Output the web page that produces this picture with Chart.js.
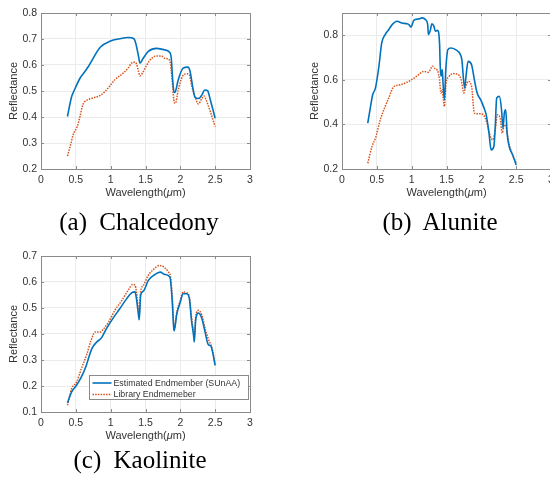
<!DOCTYPE html>
<html>
<head>
<meta charset="utf-8">
<script src="https://cdn.jsdelivr.net/npm/chart.js@4/dist/chart.umd.min.js"></script>
<style>
  html, body { margin: 0; padding: 0; background: #fff; width: 550px; height: 479px; overflow: hidden; position: relative; }
  canvas { position: absolute; }
  .cap { position: absolute; width: 240px; font: 25px "Liberation Serif", "Times New Roman", serif; line-height: 25px;
         color: #000; text-align: center; white-space: pre; word-spacing: 6px; }
</style>
</head>
<body>
<canvas id="chA"></canvas>
<canvas id="chB"></canvas>
<canvas id="chC"></canvas>
<div class="cap" style="left:19px;top:209px">(a) Chalcedony</div>
<div class="cap" style="left:320px;top:209px">(b) Alunite</div>
<div class="cap" style="left:20px;top:447px">(c) Kaolinite</div>
<script>
/* series labels */
const labelEst = "Estimated Endmember (SUnAA)";
const labelLib = "Library Endmemeber";

/* x tick labels (wavelength, um) */
const xTicks = [0, 0.5, 1, 1.5, 2, 2.5, 3];

/* (a) Chalcedony */
const chalcEstWl = [0.38, 0.44, 0.47, 0.56, 0.63, 0.68, 0.85, 0.99, 1.13, 1.25, 1.33, 1.36, 1.40, 1.42, 1.46, 1.54, 1.66, 1.76, 1.85, 1.87, 1.89, 1.91, 1.93, 1.97, 2.04, 2.11, 2.14, 2.18, 2.21, 2.26, 2.31, 2.35, 2.39, 2.43, 2.50];
const chalcEst   = [0.402, 0.479, 0.498, 0.549, 0.575, 0.594, 0.668, 0.691, 0.701, 0.706, 0.702, 0.684, 0.633, 0.607, 0.623, 0.652, 0.664, 0.659, 0.648, 0.626, 0.543, 0.494, 0.498, 0.543, 0.588, 0.592, 0.575, 0.511, 0.476, 0.471, 0.485, 0.504, 0.502, 0.466, 0.395];
const chalcLibWl = [0.38, 0.43, 0.46, 0.52, 0.56, 0.60, 0.65, 0.73, 0.85, 0.94, 1.06, 1.18, 1.25, 1.30, 1.35, 1.37, 1.40, 1.42, 1.46, 1.52, 1.59, 1.66, 1.73, 1.77, 1.83, 1.86, 1.89, 1.91, 1.93, 1.97, 2.03, 2.09, 2.13, 2.16, 2.21, 2.26, 2.31, 2.34, 2.37, 2.43, 2.50];
const chalcLib   = [0.250, 0.299, 0.331, 0.363, 0.402, 0.447, 0.463, 0.472, 0.483, 0.504, 0.543, 0.569, 0.588, 0.607, 0.611, 0.605, 0.575, 0.558, 0.571, 0.601, 0.626, 0.635, 0.635, 0.626, 0.623, 0.601, 0.518, 0.459, 0.453, 0.504, 0.556, 0.566, 0.562, 0.524, 0.479, 0.450, 0.472, 0.481, 0.466, 0.421, 0.363];

/* (b) Alunite */
const aluEstWl = [0.37, 0.41, 0.44, 0.48, 0.53, 0.57, 0.62, 0.67, 0.72, 0.79, 0.86, 0.93, 0.96, 0.99, 1.03, 1.10, 1.15, 1.20, 1.23, 1.24, 1.27, 1.29, 1.32, 1.34, 1.37, 1.40, 1.41, 1.42, 1.44, 1.45, 1.47, 1.49, 1.52, 1.56, 1.63, 1.70, 1.72, 1.76, 1.78, 1.81, 1.86, 1.90, 1.94, 1.99, 2.03, 2.07, 2.11, 2.14, 2.18, 2.20, 2.22, 2.26, 2.29, 2.31, 2.33, 2.35, 2.37, 2.40, 2.45, 2.50];
const aluEst   = [0.406, 0.481, 0.533, 0.563, 0.661, 0.766, 0.803, 0.825, 0.848, 0.863, 0.855, 0.852, 0.848, 0.837, 0.867, 0.873, 0.878, 0.870, 0.848, 0.803, 0.825, 0.852, 0.840, 0.818, 0.822, 0.766, 0.661, 0.616, 0.646, 0.586, 0.511, 0.646, 0.736, 0.743, 0.736, 0.713, 0.691, 0.563, 0.616, 0.683, 0.668, 0.601, 0.541, 0.511, 0.481, 0.443, 0.361, 0.286, 0.301, 0.391, 0.518, 0.526, 0.466, 0.383, 0.451, 0.466, 0.361, 0.301, 0.263, 0.218];
const aluLibWl = [0.37, 0.43, 0.48, 0.55, 0.62, 0.67, 0.74, 0.84, 0.93, 1.00, 1.10, 1.17, 1.24, 1.28, 1.30, 1.34, 1.37, 1.40, 1.42, 1.44, 1.45, 1.47, 1.49, 1.53, 1.60, 1.67, 1.71, 1.75, 1.77, 1.81, 1.86, 1.90, 1.96, 2.03, 2.08, 2.13, 2.16, 2.20, 2.23, 2.27, 2.30, 2.33, 2.36, 2.39, 2.45, 2.50];
const aluLib   = [0.226, 0.301, 0.338, 0.421, 0.481, 0.518, 0.568, 0.578, 0.589, 0.601, 0.623, 0.638, 0.634, 0.653, 0.661, 0.649, 0.643, 0.601, 0.541, 0.556, 0.526, 0.481, 0.578, 0.613, 0.628, 0.623, 0.601, 0.541, 0.563, 0.593, 0.571, 0.451, 0.448, 0.443, 0.406, 0.346, 0.330, 0.376, 0.443, 0.428, 0.361, 0.398, 0.383, 0.323, 0.263, 0.226];

/* (c) Kaolinite */
const kaoEstWl = [0.38, 0.44, 0.51, 0.58, 0.65, 0.68, 0.73, 0.80, 0.87, 0.94, 1.04, 1.13, 1.23, 1.30, 1.35, 1.37, 1.40, 1.41, 1.43, 1.47, 1.54, 1.63, 1.71, 1.78, 1.85, 1.88, 1.90, 1.91, 1.95, 2.00, 2.04, 2.09, 2.13, 2.16, 2.19, 2.20, 2.22, 2.26, 2.31, 2.35, 2.40, 2.44, 2.50];
const kaoEst   = [0.135, 0.177, 0.203, 0.235, 0.279, 0.305, 0.344, 0.369, 0.386, 0.421, 0.463, 0.497, 0.536, 0.558, 0.562, 0.536, 0.472, 0.455, 0.549, 0.565, 0.606, 0.628, 0.638, 0.629, 0.619, 0.542, 0.446, 0.412, 0.478, 0.523, 0.555, 0.555, 0.536, 0.453, 0.395, 0.369, 0.453, 0.481, 0.459, 0.414, 0.360, 0.353, 0.279];
const kaoLibWl = [0.38, 0.44, 0.51, 0.58, 0.66, 0.71, 0.78, 0.85, 0.89, 0.97, 1.06, 1.16, 1.25, 1.32, 1.35, 1.37, 1.40, 1.41, 1.43, 1.47, 1.54, 1.61, 1.70, 1.76, 1.83, 1.86, 1.89, 1.91, 1.95, 2.00, 2.04, 2.09, 2.13, 2.16, 2.19, 2.20, 2.22, 2.26, 2.31, 2.35, 2.40, 2.45, 2.50];
const kaoLib   = [0.126, 0.190, 0.215, 0.267, 0.324, 0.369, 0.408, 0.408, 0.417, 0.446, 0.491, 0.529, 0.568, 0.591, 0.587, 0.562, 0.491, 0.478, 0.562, 0.587, 0.626, 0.647, 0.664, 0.658, 0.638, 0.619, 0.517, 0.414, 0.485, 0.529, 0.562, 0.559, 0.542, 0.465, 0.408, 0.388, 0.465, 0.491, 0.472, 0.427, 0.382, 0.350, 0.286];

const FONT = '"Liberation Sans", Arial, Helvetica, sans-serif';
const BLUE = "#0072BD";
const RED = "#D95319";
const AXIS = "#8a8a8a";
const TEXT = "#333333";

/* draws the box, inward ticks, axis titles and optional legend */
const matlabAxes = {
  id: "matlabAxes",
  afterDraw(chart, args, opts) {
    const { ctx, chartArea: a, scales } = chart;
    ctx.save();
    ctx.strokeStyle = AXIS;
    ctx.lineWidth = 1;
    ctx.beginPath();
    scales.x.ticks.forEach((t) => {
      const px = Math.round(scales.x.getPixelForValue(t.value)) + 0.5;
      ctx.moveTo(px, a.bottom); ctx.lineTo(px, a.bottom - 3);
      ctx.moveTo(px, a.top); ctx.lineTo(px, a.top + 3);
    });
    scales.y.ticks.forEach((t) => {
      const py = Math.round(scales.y.getPixelForValue(t.value)) + 0.5;
      ctx.moveTo(a.left, py); ctx.lineTo(a.left + 3, py);
      ctx.moveTo(a.right, py); ctx.lineTo(a.right - 3, py);
    });
    ctx.stroke();
    ctx.strokeRect(Math.round(a.left) + 0.5, Math.round(a.top) + 0.5, Math.round(a.width), Math.round(a.height));

    // x title with italic mu
    ctx.fillStyle = TEXT;
    ctx.textBaseline = "middle";
    const parts = [["Wavelength(", "11px " + FONT], ["\u03bc", "italic 11px " + FONT], ["m)", "11px " + FONT]];
    let total = 0;
    parts.forEach((p) => { ctx.font = p[1]; total += ctx.measureText(p[0]).width; });
    let tx = (a.left + a.right) / 2 - total / 2;
    const ty = a.bottom + opts.xTitleGap;
    parts.forEach((p) => {
      ctx.font = p[1];
      ctx.textAlign = "left";
      ctx.fillText(p[0], tx, ty);
      tx += ctx.measureText(p[0]).width;
    });

    // y title
    ctx.save();
    ctx.translate(a.left - opts.yTitleGap, (a.top + a.bottom) / 2);
    ctx.rotate(-Math.PI / 2);
    ctx.font = "11px " + FONT;
    ctx.textAlign = "center";
    ctx.fillText("Reflectance", 0, 0);
    ctx.restore();

    if (opts.legend) {
      const w = 159, h = 24;
      const lx = Math.round(a.right - 2.5 - w) + 0.5;
      const ly = Math.round(a.bottom - 13 - h) + 0.5;
      ctx.fillStyle = "#fff";
      ctx.fillRect(lx, ly, w, h);
      ctx.strokeStyle = AXIS;
      ctx.strokeRect(lx, ly, w, h);
      ctx.font = "8.8px " + FONT;
      ctx.textAlign = "left";
      chart.data.datasets.forEach((ds, i) => {
        const ry = ly + 7.5 + i * 11.5;
        ctx.strokeStyle = ds.borderColor;
        ctx.lineWidth = ds.borderWidth;
        ctx.setLineDash(ds.borderDash || []);
        ctx.beginPath();
        ctx.moveTo(lx + 3, ry); ctx.lineTo(lx + 22, ry);
        ctx.stroke();
        ctx.setLineDash([]);
        ctx.fillStyle = TEXT;
        ctx.fillText(ds.label, lx + 24, ry + 0.5);
      });
    }
    ctx.restore();
  },
};

function toPoints(xs, ys) {
  return xs.map((x, i) => ({ x: x, y: ys[i] }));
}

function makeChart(id, region, area, yMin, yMax, yStep, estWl, est, libWl, lib, legend) {
  const canvas = document.getElementById(id);
  canvas.width = region.w;
  canvas.height = region.h;
  canvas.style.left = region.x + "px";
  canvas.style.top = region.y + "px";
  canvas.style.width = region.w + "px";
  canvas.style.height = region.h + "px";

  const tickFont = { family: FONT, size: 10.5 };
  const config = {
    type: "line",
    data: {
      datasets: [
        {
          label: labelEst,
          data: toPoints(estWl, est),
          borderColor: BLUE,
          borderWidth: 1.6,
          pointRadius: 0,
          cubicInterpolationMode: "monotone",
          fill: false,
        },
        {
          label: labelLib,
          data: toPoints(libWl, lib),
          borderColor: RED,
          borderWidth: 1.5,
          borderDash: [1.5, 1.2],
          pointRadius: 0,
          cubicInterpolationMode: "monotone",
          fill: false,
        },
      ],
    },
    options: {
      responsive: false,
      animation: false,
      devicePixelRatio: 1,
      layout: {
        padding: { top: area.t - region.y, right: region.x + region.w - area.r, left: 0, bottom: 0 },
      },
      plugins: {
        legend: { display: false },
        tooltip: { enabled: false },
        matlabAxes: { legend: legend, xTitleGap: 24, yTitleGap: 27.5 },
      },
      scales: {
        x: {
          type: "linear",
          min: 0,
          max: 3,
          afterBuildTicks: (s) => { s.ticks = xTicks.map((v) => ({ value: v })); },
          ticks: { padding: 5, color: TEXT, font: tickFont, maxRotation: 0, autoSkip: false,
                   callback: (v) => String(v) },
          grid: { color: "#ebebeb", drawTicks: false },
          border: { display: false },
          afterFit: (s) => { s.height = region.y + region.h - area.b; s.paddingLeft = 0; s.paddingRight = 0; },
        },
        y: {
          type: "linear",
          min: yMin,
          max: yMax,
          ticks: { stepSize: yStep, includeBounds: false, padding: 4, color: TEXT, font: tickFont,
                   callback: (v) => String(+v.toFixed(2)) },
          grid: { color: "#ebebeb", drawTicks: false },
          border: { display: false },
          afterFit: (s) => { s.width = area.l - region.x; s.paddingTop = 0; s.paddingBottom = 0; },
        },
      },
    },
    plugins: [matlabAxes],
  };
  return new Chart(canvas, config);
}

makeChart("chA", { x: 0, y: 0, w: 275, h: 200 }, { l: 41, t: 13, r: 250, b: 169 },
  0.2, 0.8, 0.1, chalcEstWl, chalcEst, chalcLibWl, chalcLib, false);
makeChart("chB", { x: 275, y: 0, w: 290, h: 200 }, { l: 342, t: 13, r: 551, b: 169 },
  0.2, 0.9, 0.2, aluEstWl, aluEst, aluLibWl, aluLib, false);
makeChart("chC", { x: 0, y: 230, w: 275, h: 220 }, { l: 41, t: 256, r: 250, b: 412 },
  0.1, 0.7, 0.1, kaoEstWl, kaoEst, kaoLibWl, kaoLib, true);
</script>
</body>
</html>
